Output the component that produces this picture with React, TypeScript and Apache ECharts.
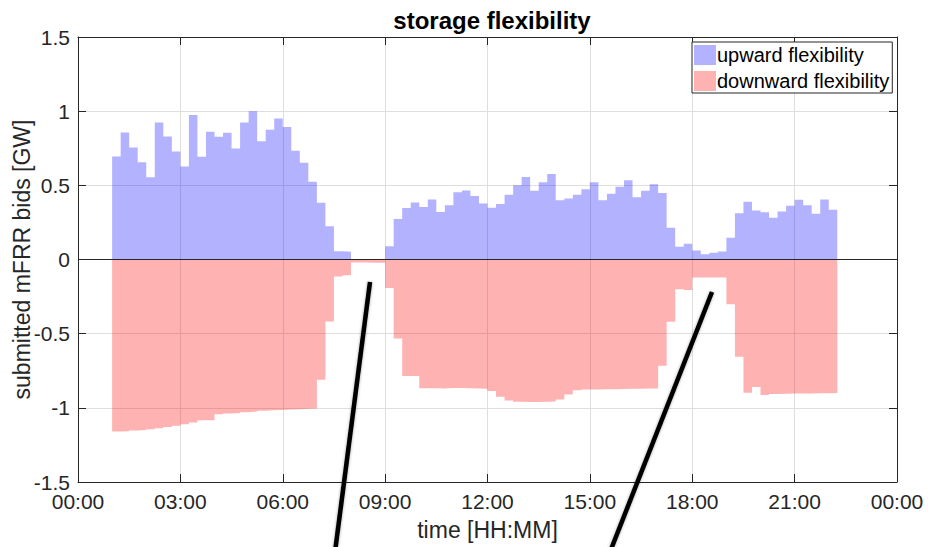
import React, { useEffect, useRef } from "react";
import * as echarts from "echarts";

// Quarter-hour slots, the first one starting at 01:00
const FIRST_SLOT_HOUR = 1;
const SLOT_HOURS = 0.25;

// Submitted upward mFRR bids per slot [GW]
const upward = [
  0.694, 0.856, 0.755, 0.656, 0.555, 0.924, 0.829, 0.728, 0.627, 0.975,
  0.692, 0.861, 0.827, 0.854, 0.748, 0.924, 1.0, 0.798, 0.874, 0.951,
  0.894, 0.733, 0.652, 0.524, 0.382, 0.225, 0.056, 0.052, 0, 0,
  0, 0, 0.09, 0.273, 0.347, 0.385, 0.354, 0.405, 0.32, 0.365,
  0.453, 0.466, 0.428, 0.378, 0.349, 0.374, 0.437, 0.5, 0.556, 0.464,
  0.52, 0.577, 0.4, 0.412, 0.437, 0.473, 0.52, 0.399, 0.444, 0.491,
  0.534, 0.419, 0.464, 0.507, 0.448, 0.214, 0.086, 0.106, 0.061, 0.036,
  0.045, 0.054, 0.146, 0.311, 0.39, 0.331, 0.318, 0.282, 0.324, 0.363,
  0.403, 0.365, 0.309, 0.405, 0.336,
];

// Submitted downward mFRR bids per slot [GW]
const downward = [
  -1.16, -1.158, -1.153, -1.149, -1.144, -1.138, -1.129, -1.12, -1.111, -1.099,
  -1.084, -1.084, -1.043, -1.038, -1.034, -1.029, -1.025, -1.02, -1.016, -1.014,
  -1.011, -1.009, -1.007, -1.005, -0.81, -0.418, -0.115, -0.106, -0.02, -0.02,
  -0.022, -0.022, -0.192, -0.532, -0.785, -0.785, -0.868, -0.868, -0.869, -0.866,
  -0.866, -0.868, -0.87, -0.872, -0.887, -0.925, -0.95, -0.959, -0.96, -0.96,
  -0.959, -0.958, -0.943, -0.91, -0.882, -0.877, -0.876, -0.875, -0.874, -0.873,
  -0.872, -0.871, -0.87, -0.869, -0.717, -0.419, -0.2, -0.206, -0.122, -0.121,
  -0.121, -0.122, -0.302, -0.655, -0.898, -0.86, -0.914, -0.906, -0.905, -0.904,
  -0.903, -0.903, -0.902, -0.901, -0.9,
];

const yTicks = [-1.5, -1, -0.5, 0, 0.5, 1, 1.5];

const UP_NAME = "upward flexibility";
const DOWN_NAME = "downward flexibility";
const UP_COLOR = "rgba(0,0,255,0.3)";
const DOWN_COLOR = "rgba(255,0,0,0.3)";
const AXIS_COLOR = "#262626";
const GRID_COLOR = "#dedede";
const FONT = "'Liberation Sans', Arial, Helvetica, sans-serif";

// Step points: each slot keeps its value until the next slot starts
function stepPoints(values: number[]): number[][] {
  const pts = values.map((v, i) => [FIRST_SLOT_HOUR + i * SLOT_HOURS, v]);
  const last = values[values.length - 1];
  pts.push([FIRST_SLOT_HOUR + values.length * SLOT_HOURS, last]);
  return pts;
}

function hourLabel(v: number): string {
  const h = Math.round(v) % 24;
  return String(h).padStart(2, "0") + ":00";
}

export default function App() {
  const ref = useRef<HTMLDivElement>(null);

  useEffect(() => {
    if (!ref.current) return;
    const chart = echarts.init(ref.current, undefined, { renderer: "svg" });

    const axisCommon = {
      axisLine: { show: true, onZero: false, lineStyle: { color: AXIS_COLOR, width: 1 } },
      axisTick: { show: true, inside: true, length: 8, lineStyle: { color: AXIS_COLOR } },
    };

    chart.setOption({
      animation: false,
      backgroundColor: "#ffffff",
      textStyle: { fontFamily: FONT },
      title: {
        text: "storage flexibility",
        left: 487,
        top: 3,
        textAlign: "center",
        textStyle: { fontFamily: FONT, fontSize: 24, fontWeight: "bold", color: "#000" },
      },
      grid: {
        left: 78,
        right: 31,
        top: 37,
        bottom: 65,
        containLabel: false,
        outerBoundsMode: "none",
      },
      legend: {
        orient: "vertical",
        left: 692,
        top: 42,
        icon: "rect",
        itemWidth: 22,
        itemHeight: 20,
        itemGap: 6,
        padding: [3, 3, 2, 2],
        borderColor: AXIS_COLOR,
        borderWidth: 1,
        backgroundColor: "#ffffff",
        textStyle: { fontFamily: FONT, fontSize: 20, color: "#000", padding: [0, 0, 0, -4] },
        data: [
          { name: UP_NAME, itemStyle: { color: UP_COLOR } },
          { name: DOWN_NAME, itemStyle: { color: DOWN_COLOR } },
        ],
      },
      xAxis: [
        {
          type: "value",
          min: 0,
          max: 24,
          interval: 3,
          position: "bottom",
          ...axisCommon,
          axisLabel: {
            formatter: hourLabel,
            fontSize: 21,
            color: AXIS_COLOR,
            margin: 9,
            fontFamily: FONT,
          },
          splitLine: { show: true, lineStyle: { color: GRID_COLOR, width: 1 } },
          name: "time [HH:MM]",
          nameLocation: "middle",
          nameGap: 36,
          nameMoveOverlap: false,
          nameTextStyle: { fontSize: 23, color: AXIS_COLOR, fontFamily: FONT },
        },
        {
          type: "value",
          min: 0,
          max: 24,
          interval: 3,
          position: "top",
          ...axisCommon,
          axisLabel: { show: false },
          splitLine: { show: false },
        },
      ],
      yAxis: [
        {
          type: "value",
          min: yTicks[0],
          max: yTicks[yTicks.length - 1],
          interval: 0.5,
          position: "left",
          ...axisCommon,
          axisLabel: { fontSize: 21, color: AXIS_COLOR, margin: 8, fontFamily: FONT },
          splitLine: { show: true, lineStyle: { color: GRID_COLOR, width: 1 } },
          name: "submitted mFRR bids [GW]",
          nameLocation: "middle",
          nameRotate: 90,
          nameGap: 45,
          nameMoveOverlap: false,
          nameTextStyle: { fontSize: 23, color: AXIS_COLOR, fontFamily: FONT },
        },
        {
          type: "value",
          min: yTicks[0],
          max: yTicks[yTicks.length - 1],
          interval: 0.5,
          position: "right",
          ...axisCommon,
          axisLabel: { show: false },
          splitLine: { show: false },
        },
      ],
      series: [
        {
          name: UP_NAME,
          type: "line",
          step: "end",
          data: stepPoints(upward),
          symbol: "none",
          showSymbol: false,
          lineStyle: { width: 0, opacity: 0 },
          itemStyle: { color: UP_COLOR },
          areaStyle: { color: UP_COLOR, opacity: 1, origin: 0 },
          silent: true,
          z: 2,
        },
        {
          name: DOWN_NAME,
          type: "line",
          step: "end",
          data: stepPoints(downward),
          symbol: "none",
          showSymbol: false,
          lineStyle: { width: 0, opacity: 0 },
          itemStyle: { color: DOWN_COLOR },
          areaStyle: { color: DOWN_COLOR, opacity: 1, origin: 0 },
          silent: true,
          z: 2,
          markLine: {
            silent: true,
            symbol: ["none", "none"],
            label: { show: false },
            lineStyle: { color: AXIS_COLOR, width: 1, type: "solid" },
            data: [{ yAxis: 0 }],
            z: 5,
          },
        },
      ],
      graphic: [
        {
          type: "line",
          shape: { x1: 370, y1: 282, x2: 335, y2: 552 },
          style: {
            stroke: "#000",
            lineWidth: 4.5,
            shadowBlur: 3,
            shadowColor: "rgba(0,0,0,0.35)",
          },
          z: 100,
        },
        {
          type: "line",
          shape: { x1: 712, y1: 292, x2: 610, y2: 552 },
          style: {
            stroke: "#000",
            lineWidth: 4.5,
            shadowBlur: 3,
            shadowColor: "rgba(0,0,0,0.35)",
          },
          z: 100,
        },
      ],
    });

    return () => chart.dispose();
  }, []);

  return (
    <div
      ref={ref}
      style={{ position: "fixed", left: 0, top: 0, width: 928, height: 547 }}
    />
  );
}
